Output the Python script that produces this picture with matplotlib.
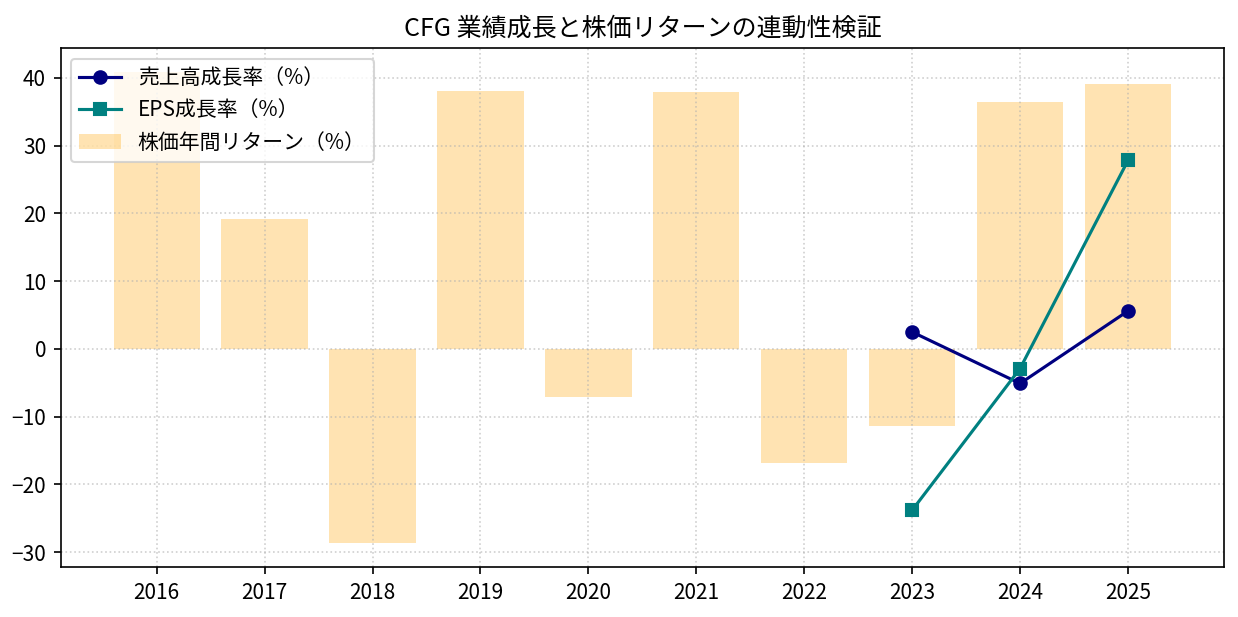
import numpy as np
import matplotlib
matplotlib.use("Agg")
from matplotlib import pyplot as plt

plt.rcParams['font.family'] = ['Noto Sans CJK JP', 'DejaVu Sans']

years = [2016, 2017, 2018, 2019, 2020, 2021, 2022, 2023, 2024, 2025]
stock_return = [40.9, 19.1, -28.7, 38.1, -7.1, 37.9, -16.8, -11.3, 36.5, 39.1]

growth_years = [2023, 2024, 2025]
revenue_growth = [2.5, -5.1, 5.6]
eps_growth = [-23.8, -2.9, 27.8]

fig, ax = plt.subplots(figsize=(1238/150, 617/150), dpi=150)

ax.bar(years, stock_return, width=0.8, color='orange', alpha=0.3, label='株価年間リターン（%）')
ax.plot(growth_years, revenue_growth, marker='o', color='navy', label='売上高成長率（%）')
ax.plot(growth_years, eps_growth, marker='s', color='teal', label='EPS成長率（%）')

ax.set_xticks(years)
ax.set_title('CFG 業績成長と株価リターンの連動性検証', fontsize=12)
ax.grid(True, linestyle=':', alpha=0.6)
ax.legend(loc='upper left')

plt.subplots_adjust(left=0.049, right=0.9887, top=0.922, bottom=0.081)
plt.savefig('out.png', dpi=150)
